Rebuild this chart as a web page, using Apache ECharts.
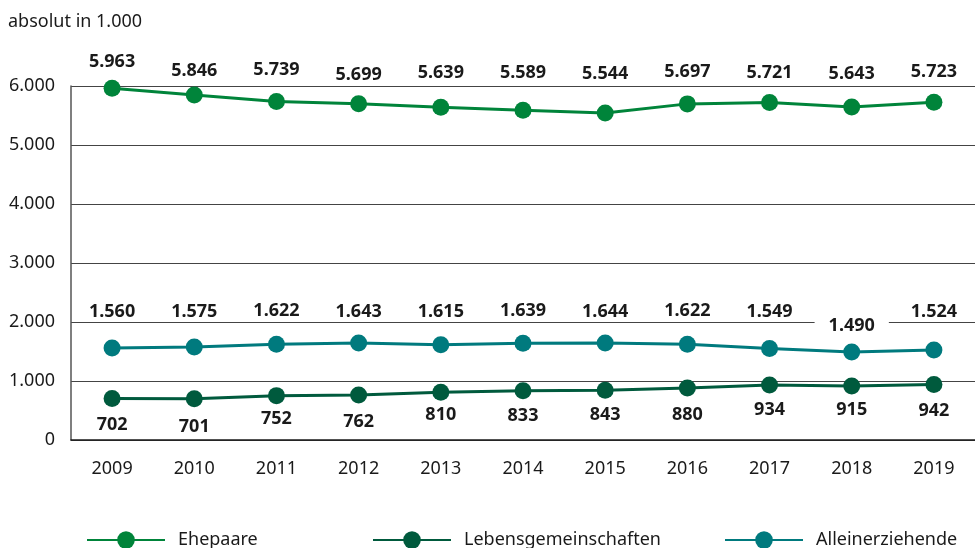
<!DOCTYPE html>
<html>
<head>
<meta charset="utf-8">
<script src="https://cdn.jsdelivr.net/npm/echarts@6/dist/echarts.min.js"></script>
<style>
  html, body { margin: 0; padding: 0; background: #fff; }
  #main { width: 975px; height: 548px; }
</style>
</head>
<body>
<div id="main"></div>
<script>
// Daten (absolut in 1.000)
var years = ['2009', '2010', '2011', '2012', '2013', '2014', '2015', '2016', '2017', '2018', '2019'];
var ehepaare = [5963, 5846, 5739, 5699, 5639, 5589, 5544, 5697, 5721, 5643, 5723];
var lebensgemeinschaften = [702, 701, 752, 762, 810, 833, 843, 880, 934, 915, 942];
var alleinerziehende = [1560, 1575, 1622, 1643, 1615, 1639, 1644, 1622, 1549, 1490, 1524];
var yTicks = [0, 1000, 2000, 3000, 4000, 5000, 6000];

// vertikale Verschiebung der Wertbeschriftungen (px, relativ zum Punkt)
var ehDy = [-26, -24, -32, -29, -34, -37, -39, -32, -30, -33, -30];
var lgDy = [26, 28, 23, 27, 23, 25, 25, 27, 25, 24, 26];
var aeDy = [-36, -35, -33, -31, -33, -32, -31, -33, -37, -26, -38];

var FONT = '"Noto Sans", sans-serif';

function fmt(v) {
    return String(v).replace(/\B(?=(\d{3})+(?!\d))/g, '.');
}

function build(values, dy) {
    var ret = [];
    for (var i = 0; i < values.length; i++) {
        ret.push({ value: values[i], label: { offset: [0, dy[i]] } });
    }
    return ret;
}

function lineSeries(name, color, values, dy, bg) {
    return {
        name: name,
        type: 'line',
        data: build(values, dy),
        symbol: 'circle',
        symbolSize: 17,
        lineStyle: { color: color, width: 3 },
        itemStyle: { color: color },
        label: {
            show: true,
            position: 'inside',
            color: '#1a1a1a',
            fontFamily: FONT,
            fontWeight: 'bold',
            fontSize: 18,
            lineHeight: 18,
            backgroundColor: bg ? '#fff' : 'transparent',
            padding: bg ? [0, 14] : 0,
            formatter: function (p) { return fmt(p.value); }
        }
    };
}

function legendAt(left, name) {
    return {
        left: left,
        top: 531,
        padding: 0,
        itemWidth: 78,
        itemHeight: 22,
        itemGap: 0,
        data: [name],
        selectedMode: false,
        textStyle: { fontFamily: FONT, fontSize: 18, color: '#1a1a1a', padding: [0, 0, 0, 8] }
    };
}

var chart = echarts.init(document.getElementById('main'));
var option = {
    animation: false,
    backgroundColor: '#fff',
    title: {
        text: 'absolut in 1.000',
        left: 3,
        top: 8,
        textStyle: { fontFamily: FONT, fontSize: 18, fontWeight: 'normal', color: '#1a1a1a' }
    },
    legend: [
        legendAt(86, 'Ehepaare'),
        legendAt(372, 'Lebensgemeinschaften'),
        legendAt(724, 'Alleinerziehende')
    ],
    grid: {
        left: 71,
        right: -11.5,
        top: 86,
        bottom: 108,
        containLabel: false
    },
    xAxis: {
        type: 'category',
        data: years,
        boundaryGap: true,
        axisLine: { show: true, lineStyle: { color: '#1a1a1a', width: 1.5 } },
        axisTick: { show: false },
        axisLabel: { margin: 20, fontFamily: FONT, fontSize: 18, color: '#1a1a1a' }
    },
    yAxis: {
        type: 'value',
        min: yTicks[0],
        max: yTicks[yTicks.length - 1],
        interval: yTicks[1] - yTicks[0],
        axisLine: { show: true, lineStyle: { color: '#555', width: 1.5 } },
        axisTick: { show: false },
        splitLine: { show: true, lineStyle: { color: '#444', width: 1 } },
        axisLabel: {
            margin: 16,
            fontFamily: FONT,
            fontSize: 18,
            color: '#1a1a1a',
            formatter: function (v) { return fmt(v); }
        }
    },
    series: [
        lineSeries('Ehepaare', '#00843a', ehepaare, ehDy, false),
        lineSeries('Lebensgemeinschaften', '#005a3d', lebensgemeinschaften, lgDy, false),
        lineSeries('Alleinerziehende', '#007a7e', alleinerziehende, aeDy, true)
    ]
};
chart.setOption(option);
</script>
</body>
</html>
